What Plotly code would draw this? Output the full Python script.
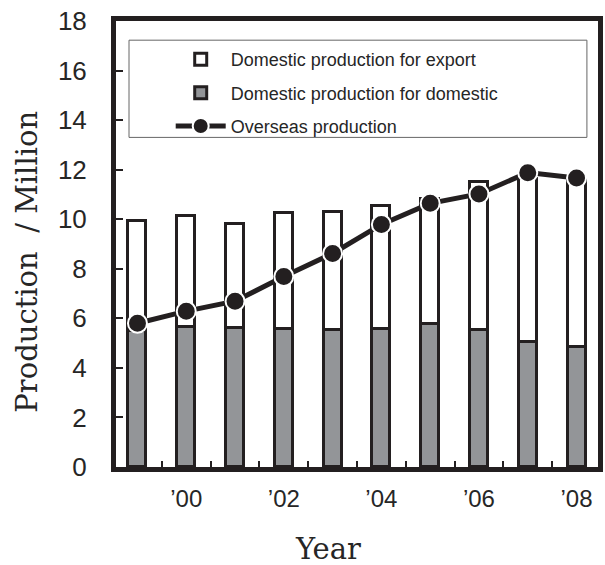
import plotly.graph_objects as go

years = [1999, 2000, 2001, 2002, 2003, 2004, 2005, 2006, 2007, 2008]
domestic_for_domestic = [5.50, 5.67, 5.60, 5.56, 5.53, 5.55, 5.77, 5.52, 5.06, 4.85]
total_domestic = [9.92, 10.15, 9.80, 10.27, 10.29, 10.52, 10.80, 11.50, 11.62, 11.57]
domestic_for_export = [round(t - d, 2) for t, d in zip(total_domestic, domestic_for_domestic)]
overseas = [5.80, 6.29, 6.69, 7.69, 8.62, 9.79, 10.64, 11.02, 11.88, 11.66]

xtick_vals = [2000, 2002, 2004, 2006, 2008]
xtick_text = ["\u201900", "\u201902", "\u201904", "\u201906", "\u201908"]
ytick_vals = [0, 2, 4, 6, 8, 10, 12, 14, 16, 18]

INK = "#231f20"
GRAY = "#939598"
TXT = "#262626"

fig = go.Figure()
fig.add_trace(go.Bar(
    x=years, y=domestic_for_domestic, name="Domestic production for domestic",
    marker=dict(color=GRAY, line=dict(color=INK, width=3)), width=0.37,
    legendrank=2, legendgroup="b",
))
fig.add_trace(go.Bar(
    x=years, y=domestic_for_export, name="Domestic production for export",
    marker=dict(color="white", line=dict(color=INK, width=3)), width=0.37,
    legendrank=1, legendgroup="a",
))
fig.add_trace(go.Scatter(
    x=years, y=overseas, name="Overseas production", mode="lines+markers",
    line=dict(color=INK, width=5),
    marker=dict(color=INK, size=19, line=dict(color="white", width=2)),
    legendrank=3, legendgroup="c",
))

fig.update_layout(
    width=605, height=565,
    margin=dict(l=116, r=7, t=21, b=98, autoexpand=False),
    paper_bgcolor="white", plot_bgcolor="white",
    barmode="stack", bargap=0,
    showlegend=True,
    legend=dict(
        x=0.1135, y=0.955, xanchor="left", yanchor="top",
        bgcolor="rgba(0,0,0,0)", borderwidth=0,
        font=dict(family="Liberation Sans", size=18, color=TXT),
        traceorder="grouped", tracegroupgap=7, itemwidth=50,
    ),
    xaxis=dict(
        range=[1998.56, 2008.44], automargin=False,
        tickmode="array", tickvals=xtick_vals, ticktext=xtick_text,
        ticks="inside", ticklen=0, showgrid=False, zeroline=False,
        showline=True, linewidth=5, linecolor=INK, mirror=True,
        tickfont=dict(family="Liberation Sans", size=24, color=TXT),
        ticklabelstandoff=6,
        minor=dict(tickmode="array", tickvals=[y + 0.5 for y in years[:-1]],
                   ticks="inside", ticklen=6, tickwidth=1.5, tickcolor=INK, showgrid=False),
    ),
    yaxis=dict(
        range=[0, 18], automargin=False,
        tickmode="array", tickvals=ytick_vals,
        ticks="inside", ticklen=7, tickwidth=1.5, tickcolor=INK,
        showgrid=False, zeroline=False,
        showline=True, linewidth=5, linecolor=INK, mirror=True,
        tickfont=dict(family="Liberation Sans", size=26, color=TXT),
        ticklabelstandoff=19,
    ),
    shapes=[dict(type="rect", xref="paper", yref="paper",
                 x0=0.027, x1=0.977, y0=0.739, y1=0.957,
                 line=dict(color="#666666", width=1), fillcolor="rgba(0,0,0,0)", layer="above")],
    annotations=[
        dict(text="Production\u00a0\u00a0/ Million", xref="paper", yref="paper",
             x=-0.185, y=0.46, textangle=-90, showarrow=False,
             font=dict(family="DejaVu Serif", size=29, color=TXT),
             xanchor="center", yanchor="middle"),
        dict(text="Year", xref="paper", yref="paper",
             x=0.44, y=-0.184, showarrow=False,
             font=dict(family="DejaVu Serif", size=29, color=TXT),
             xanchor="center", yanchor="middle"),
    ],
)

fig.write_html("out.html", config={"displayModeBar": False},
               post_script="document.body.style.margin='0';")
